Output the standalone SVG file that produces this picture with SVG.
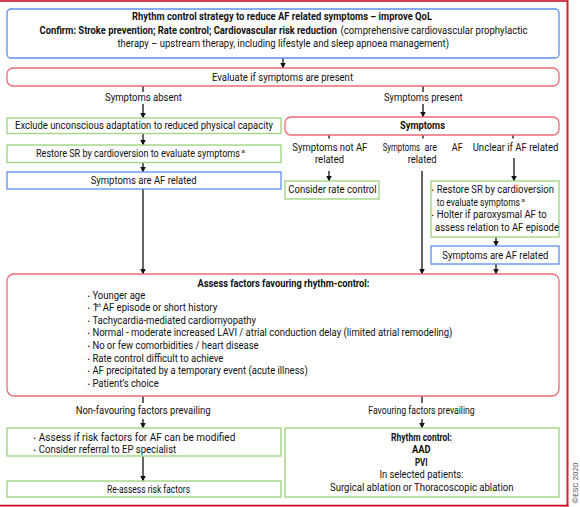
<svg xmlns="http://www.w3.org/2000/svg" width="580" height="507" viewBox="0 0 580 507">
<style>
text{font-family:Roboto,"Liberation Sans",sans-serif;font-size:10px;fill:#111}
.b{font-weight:bold}
.sup{font-size:6px}
.bl{font-size:7px}
.blue{fill:#fff;stroke:#5b8ff0;stroke-width:1.3}
.red{fill:#fff;stroke:#ec6b76;stroke-width:1.3}
.green{fill:#fff;stroke:#a3d585;stroke-width:1.4}
.c{fill:none;stroke:#111;stroke-width:1.3}
</style>
<defs>
<marker id="ah" markerUnits="userSpaceOnUse" markerWidth="6" markerHeight="6" refX="5.5" refY="3" orient="auto">
<path d="M0,0 L6,3 L0,6 z" fill="#111"/>
</marker>
</defs>
<rect width="580" height="507" fill="#fff"/>
<g id="frame">
<line x1="0" y1="1" x2="568" y2="1" stroke="#c4001a" stroke-width="1.6"/>
<line x1="567.5" y1="0" x2="567.5" y2="506.5" stroke="#d4202e" stroke-width="2"/>
<line x1="0" y1="505.6" x2="568.5" y2="505.6" stroke="#c4001a" stroke-width="1.6"/>
<text transform="translate(578,483) rotate(-90)" text-anchor="middle" style="font-size:8px;fill:#555">©ESC 2020</text>
</g>
<g id="connectors">
<line class="c" x1="283" y1="58" x2="283" y2="68" marker-end="url(#ah)"/>
<line class="c" x1="143" y1="86" x2="143" y2="92"/>
<line class="c" x1="423" y1="86" x2="423" y2="92"/>
<line class="c" x1="143" y1="104" x2="143" y2="118" marker-end="url(#ah)"/>
<line class="c" x1="143" y1="133.5" x2="143" y2="145" marker-end="url(#ah)"/>
<line class="c" x1="143" y1="162.5" x2="143" y2="172" marker-end="url(#ah)"/>
<line class="c" x1="143" y1="189" x2="143" y2="274" marker-end="url(#ah)"/>
<line class="c" x1="423" y1="104" x2="423" y2="117" marker-end="url(#ah)"/>
<line class="c" x1="329" y1="135" x2="329" y2="138.5"/>
<line class="c" x1="423" y1="135" x2="423" y2="138.5"/>
<line class="c" x1="513" y1="135" x2="513" y2="138.5"/>
<line class="c" x1="329" y1="171" x2="329" y2="181" marker-end="url(#ah)"/>
<line class="c" x1="422" y1="171" x2="422" y2="274" marker-end="url(#ah)"/>
<line class="c" x1="514" y1="158" x2="514" y2="181" marker-end="url(#ah)"/>
<line class="c" x1="496" y1="237" x2="496" y2="246" marker-end="url(#ah)"/>
<line class="c" x1="496" y1="264" x2="496" y2="274" marker-end="url(#ah)"/>
<line class="c" x1="143" y1="396" x2="143" y2="403"/>
<line class="c" x1="422" y1="396" x2="422" y2="403"/>
<line class="c" x1="143" y1="419" x2="143" y2="428" marker-end="url(#ah)"/>
<line class="c" x1="422" y1="419" x2="422" y2="428" marker-end="url(#ah)"/>
<line class="c" x1="143" y1="456" x2="143" y2="481" marker-end="url(#ah)"/>
</g>
<g id="n-top">
<rect class="blue" x="7" y="9" width="552" height="49" rx="4"/>
<text class="b" x="132" y="20" textLength="300" lengthAdjust="spacingAndGlyphs">Rhythm control strategy to reduce AF related symptoms – improve QoL</text>
<text class="b" x="39.5" y="33.5" textLength="297.5" lengthAdjust="spacingAndGlyphs">Confirm: Stroke prevention; Rate control; Cardiovascular risk reduction</text>
<text x="340.6" y="33.5" textLength="187" lengthAdjust="spacingAndGlyphs">(comprehensive cardiovascular prophylactic</text>
<text x="117.5" y="46.5" textLength="331.5" lengthAdjust="spacingAndGlyphs">therapy – upstream therapy, including lifestyle and sleep apnoea management)</text>
</g>
<g id="n-evaluate">
<rect class="red" x="7" y="68" width="552" height="18" rx="6"/>
<text x="212" y="80.5" textLength="141" lengthAdjust="spacingAndGlyphs">Evaluate if symptoms are present</text>
</g>
<g id="l-absent"><text x="105" y="101" textLength="77" lengthAdjust="spacingAndGlyphs">Symptoms absent</text></g>
<g id="l-present"><text x="384" y="101" textLength="78.7" lengthAdjust="spacingAndGlyphs">Symptoms present</text></g>
<g id="n-exclude">
<rect class="green" x="7" y="118" width="274" height="15.5"/>
<text x="15" y="129.3" textLength="258" lengthAdjust="spacingAndGlyphs">Exclude unconscious adaptation to reduced physical capacity</text>
</g>
<g id="n-restore">
<rect class="green" x="7" y="145" width="274" height="17.5"/>
<text x="36" y="157.2" textLength="204" lengthAdjust="spacingAndGlyphs">Restore SR by cardioversion to evaluate symptoms</text>
<text class="sup" x="241.5" y="152.5">a</text>
</g>
<g id="n-afrel-left">
<rect class="blue" x="7" y="172" width="274" height="17"/>
<text x="90.7" y="184" textLength="106" lengthAdjust="spacingAndGlyphs">Symptoms are AF related</text>
</g>
<g id="n-symptoms">
<rect class="red" x="285" y="117" width="274" height="18" rx="6"/>
<text class="b" x="400" y="129" textLength="45" lengthAdjust="spacingAndGlyphs">Symptoms</text>
</g>
<g id="l-notaf">
<text x="292.3" y="150.5" textLength="75" lengthAdjust="spacingAndGlyphs">Symptoms not AF</text>
<text x="315" y="163" textLength="29" lengthAdjust="spacingAndGlyphs">related</text>
</g>
<g id="l-areaf">
<text x="382.7" y="150.5" textLength="37.3" lengthAdjust="spacingAndGlyphs">Symptoms</text>
<text x="424.5" y="150.5" textLength="12.5" lengthAdjust="spacingAndGlyphs">are</text>
<text x="451.7" y="150.5" textLength="11" lengthAdjust="spacingAndGlyphs">AF</text>
<text x="407.7" y="163" textLength="29" lengthAdjust="spacingAndGlyphs">related</text>
</g>
<g id="l-unclear"><text x="472.7" y="150.5" textLength="85.7" lengthAdjust="spacingAndGlyphs">Unclear if AF related</text></g>
<g id="n-rate">
<rect class="green" x="285" y="181" width="94" height="18"/>
<text x="288.3" y="193" textLength="88.3" lengthAdjust="spacingAndGlyphs">Consider rate control</text>
</g>
<g id="n-unclear-box">
<rect class="green" x="431" y="181" width="128" height="56"/>
<text class="bl" x="431.5" y="193">•</text>
<text x="436.7" y="193" textLength="117.3" lengthAdjust="spacingAndGlyphs">Restore SR by cardioversion</text>
<text x="436.7" y="205.5" textLength="83.3" lengthAdjust="spacingAndGlyphs">to evaluate symptoms</text>
<text class="sup" x="521.5" y="201.5">a</text>
<text class="bl" x="431.5" y="218">•</text>
<text x="436.7" y="218" textLength="110" lengthAdjust="spacingAndGlyphs">Holter if paroxysmal AF to</text>
<text x="435" y="231" textLength="124" lengthAdjust="spacingAndGlyphs">assess relation to AF episode</text>
</g>
<g id="n-afrel-right">
<rect class="blue" x="431" y="246" width="128" height="18"/>
<text x="442.3" y="258.5" textLength="106" lengthAdjust="spacingAndGlyphs">Symptoms are AF related</text>
</g>
<g id="n-assess">
<rect class="red" x="7" y="274" width="552" height="122" rx="7"/>
<text class="b" x="197.6" y="286.5" textLength="171.8" lengthAdjust="spacingAndGlyphs">Assess factors favouring rhythm-control:</text>
<text class="bl" x="87.5" y="298.5">•</text>
<text class="bl" x="87.5" y="311">•</text>
<text class="bl" x="87.5" y="324">•</text>
<text class="bl" x="87.5" y="336">•</text>
<text class="bl" x="87.5" y="349">•</text>
<text class="bl" x="87.5" y="361.5">•</text>
<text class="bl" x="87.5" y="374">•</text>
<text class="bl" x="87.5" y="387">•</text>
<text x="92.4" y="298.5" textLength="52.8" lengthAdjust="spacingAndGlyphs">Younger age</text>
<text x="92.4" y="311">1</text>
<text class="sup" x="95.8" y="307">st</text>
<text x="102.7" y="311" textLength="114.5" lengthAdjust="spacingAndGlyphs">AF episode or short history</text>
<text x="92.4" y="324" textLength="163.6" lengthAdjust="spacingAndGlyphs">Tachycardia-mediated cardiomyopathy</text>
<text x="92.4" y="336" textLength="360" lengthAdjust="spacingAndGlyphs">Normal - moderate increased LAVI / atrial conduction delay (limited atrial remodeling)</text>
<text x="92.4" y="349" textLength="166.2" lengthAdjust="spacingAndGlyphs">No or few comorbidities / heart disease</text>
<text x="92.4" y="361.5" textLength="131" lengthAdjust="spacingAndGlyphs">Rate control difficult to achieve</text>
<text x="92.4" y="374" textLength="215.3" lengthAdjust="spacingAndGlyphs">AF precipitated by a temporary event (acute illness)</text>
<text x="92.4" y="387" textLength="66.4" lengthAdjust="spacingAndGlyphs">Patient’s choice</text>
</g>
<g id="l-nonfav"><text x="75.7" y="413.5" textLength="135" lengthAdjust="spacingAndGlyphs">Non-favouring factors prevailing</text></g>
<g id="l-fav"><text x="368.3" y="413.5" textLength="106.4" lengthAdjust="spacingAndGlyphs">Favouring factors prevailing</text></g>
<g id="n-modify">
<rect class="green" x="7" y="428" width="274" height="28"/>
<text class="bl" x="33.5" y="441">•</text>
<text x="38.8" y="441" textLength="196.5" lengthAdjust="spacingAndGlyphs">Assess if risk factors for AF can be modified</text>
<text class="bl" x="33.5" y="452.5">•</text>
<text x="38.8" y="452.5" textLength="137.4" lengthAdjust="spacingAndGlyphs">Consider referral to EP specialist</text>
</g>
<g id="n-reassess">
<rect class="green" x="7" y="481" width="274" height="16"/>
<text x="107" y="492.5" textLength="83" lengthAdjust="spacingAndGlyphs">Re-assess risk factors</text>
</g>
<g id="n-rhythm">
<rect class="green" x="285" y="428" width="274" height="69"/>
<text class="b" x="391" y="441" textLength="61" lengthAdjust="spacingAndGlyphs">Rhythm control:</text>
<text class="b" x="412" y="453" textLength="18.5" lengthAdjust="spacingAndGlyphs">AAD</text>
<text class="b" x="415" y="465.5" textLength="12.5" lengthAdjust="spacingAndGlyphs">PVI</text>
<text x="379.4" y="478" textLength="84" lengthAdjust="spacingAndGlyphs">In selected patients:</text>
<text x="330" y="490.5" textLength="183.5" lengthAdjust="spacingAndGlyphs">Surgical ablation or Thoracoscopic ablation</text>
</g>
</svg>
